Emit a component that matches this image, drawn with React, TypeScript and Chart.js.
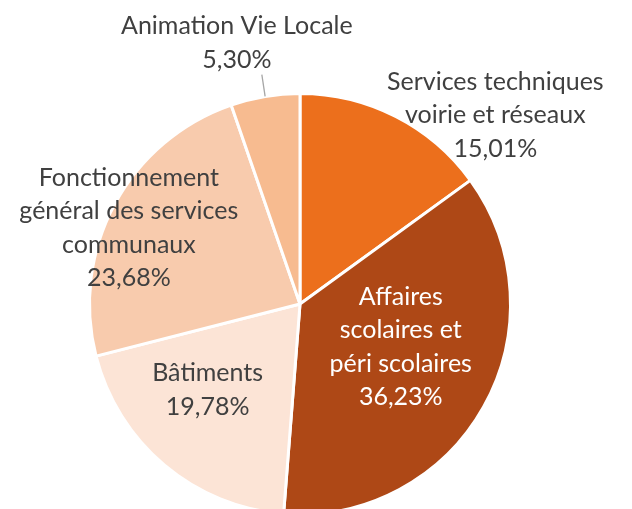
import React, { useEffect, useRef } from "react";
import { Chart, registerables } from "chart.js";

Chart.register(...registerables);

const categories: string[][] = [
  ["Services techniques", "voirie et réseaux"],
  ["Affaires", "scolaires et", "péri scolaires"],
  ["Bâtiments"],
  ["Fonctionnement", "général des services", "communaux"],
  ["Animation Vie Locale"],
];
const values: number[] = [15.01, 36.23, 19.78, 23.68, 5.3];
const valueLabels: string[] = ["15,01%", "36,23%", "19,78%", "23,68%", "5,30%"];
const colors: string[] = ["#EC6F1C", "#AE4816", "#FCE4D6", "#F8CBAD", "#F7BB90"];
const textColors: string[] = ["#404040", "#FFFFFF", "#404040", "#404040", "#404040"];
// label placement: angle (deg, clockwise from 3 o'clock) and distance as a fraction of radius
const labelAngles: number[] = [-44, 23, 137, 204, 256.4];
const labelRadii: number[] = [1.29, 0.52, 0.6, 0.89, 1.276];
const hasLeader: boolean[] = [false, false, false, false, true];

const labelPlugin = {
  id: "pieLabels",
  afterDraw(chart: any) {
    const ctx = chart.ctx;
    const meta = chart.getDatasetMeta(0);
    ctx.save();
    ctx.font = "25px Lato";
    ctx.textAlign = "center";
    ctx.textBaseline = "middle";
    const lh = 33.5;
    meta.data.forEach((arc: any, i: number) => {
      const { x, y, outerRadius, startAngle, endAngle } = arc.getProps(
        ["x", "y", "outerRadius", "startAngle", "endAngle"],
        true
      );
      const a = (labelAngles[i] * Math.PI) / 180;
      const cx = x + Math.cos(a) * outerRadius * labelRadii[i];
      const cy = y + Math.sin(a) * outerRadius * labelRadii[i];
      const lines = [...categories[i], valueLabels[i]];
      const top = cy - ((lines.length - 1) * lh) / 2;
      ctx.fillStyle = textColors[i];
      lines.forEach((l, k) => ctx.fillText(l, cx, top + k * lh));
      if (hasLeader[i]) {
        const mid = (startAngle + endAngle) / 2;
        const ex = x + Math.cos(mid) * outerRadius;
        const ey = y + Math.sin(mid) * outerRadius;
        const sx = cx + 25;
        const sy = top + (lines.length - 1) * lh + 15;
        ctx.strokeStyle = "#A6A6A6";
        ctx.lineWidth = 1.3;
        ctx.beginPath();
        ctx.moveTo(sx, sy);
        ctx.lineTo(ex, ey);
        ctx.stroke();
      }
    });
    ctx.restore();
  },
};

export default function App() {
  const ref = useRef<HTMLCanvasElement>(null);
  useEffect(() => {
    document.documentElement.style.overflow = "hidden";
    document.body.style.overflow = "hidden";
    const chart = new Chart(ref.current!, {
      type: "pie",
      data: {
        labels: categories.map((c) => c.join(" ")),
        datasets: [
          {
            data: values,
            backgroundColor: colors,
            borderColor: "#FFFFFF",
            borderWidth: 3,
          },
        ],
      },
      options: {
        responsive: false,
        animation: false,
        layout: { padding: { left: 88, right: 120, top: 92, bottom: 24 } },
        plugins: { legend: { display: false }, tooltip: { enabled: false } },
      },
      plugins: [labelPlugin],
    });
    return () => chart.destroy();
  }, []);
  return (
    <div style={{ position: "absolute", left: 0, top: 0, width: 632, height: 540, background: "#fff" }}>
      <canvas ref={ref} width={632} height={540} />
    </div>
  );
}
